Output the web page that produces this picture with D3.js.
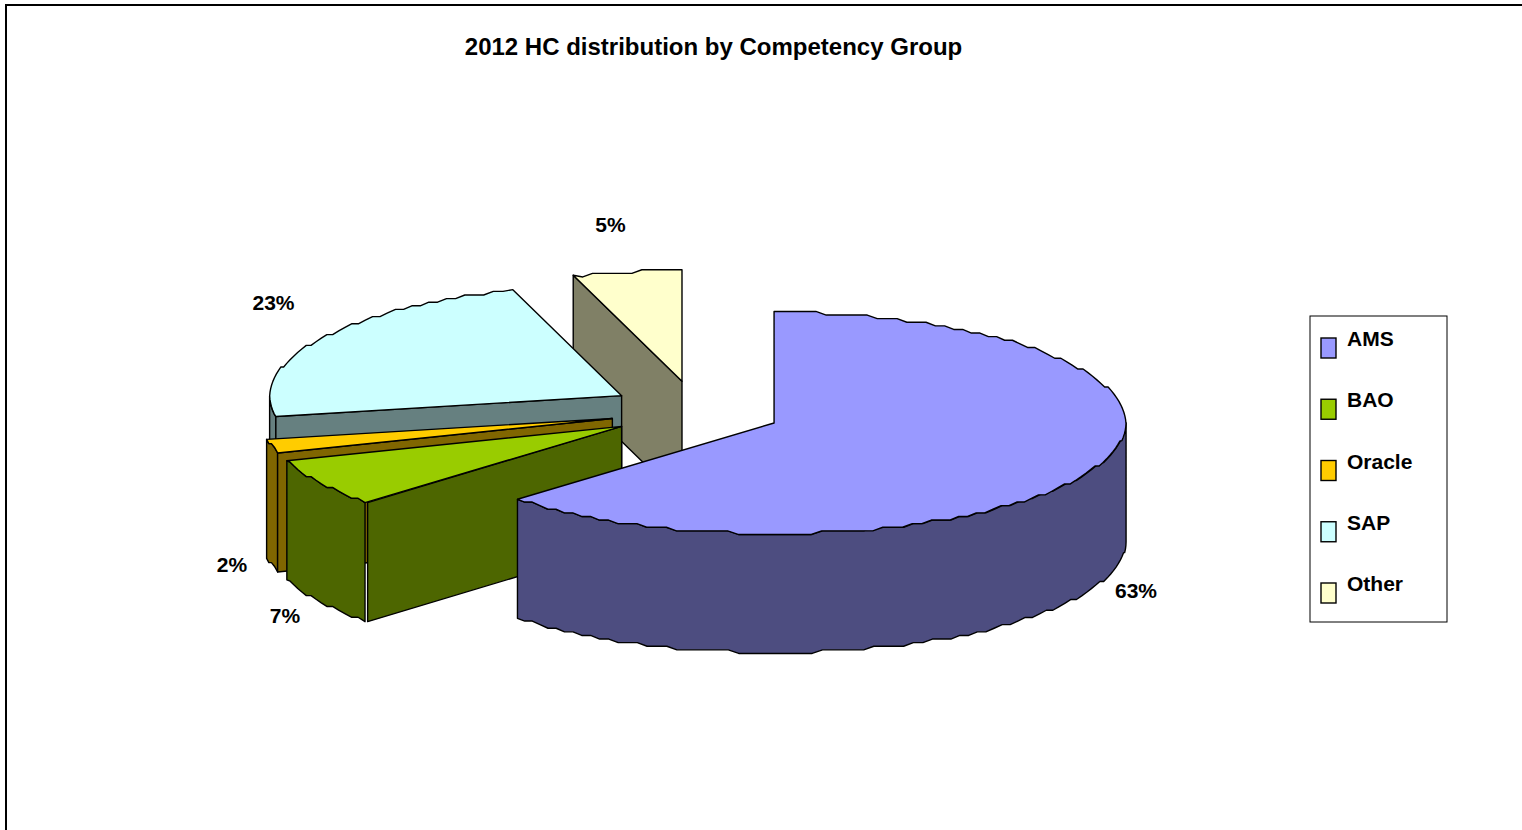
<!DOCTYPE html>
<html>
<head>
<meta charset="utf-8">
<script src="https://cdn.jsdelivr.net/npm/d3@7/dist/d3.min.js"></script>
<style>
html,body{margin:0;padding:0;background:#fff;overflow:hidden}
svg{display:block}
text{font-family:"Liberation Sans",Arial,sans-serif;font-weight:bold;fill:#000}
</style>
</head>
<body>
<svg id="chart" width="1522" height="830"></svg>
<script>
// Head count share by competency group
const categories = ["AMS", "BAO", "Oracle", "SAP", "Other"];
const shares = [63, 7, 2, 23, 5];
const topColors = ["#9999ff", "#99cc00", "#ffcc00", "#ccffff", "#ffffcc"];
const wallColors = ["#4d4d80", "#4d6600", "#806600", "#668080", "#808066"];
const chartTitle = "2012 HC distribution by Competency Group";

// Projection of the tilted pie: unit-circle coordinates to page pixels
const rx = 352, ry = 111.5, depth = 119;
const cx = 695.4, cy = 411;
const x = d3.scaleLinear().domain([-1, 1]).range([cx - rx, cx + rx]);
const y = d3.scaleLinear().domain([-1, 1]).range([cy - ry, cy + ry]);
const explodeX = 0.2435, explodeY = 0.27;

// Rim polyline is coarse, the way the chart's low-resolution export renders it
const rimStep = 1.7 * Math.PI / 180, yGrid = 3.6, flatBand = 0.25;
const BAO = categories.indexOf("BAO");
const seam = 2.6;

const svg = d3.select("#chart");
const line = d3.line();

// Page frame: only its left and top edges fall inside the view
svg.append("rect").attr("x", 6).attr("y", 5).attr("width", 1700).attr("height", 1000)
  .attr("fill", "none").attr("stroke", "#000").attr("stroke-width", 2);

svg.append("text").attr("x", 713.5).attr("y", 55).attr("text-anchor", "middle")
  .attr("font-size", 24).text(chartTitle);

const slices = d3.pie().sort(null).value(d => d)(shares).map((s, i) => {
  const mid = (s.startAngle + s.endAngle) / 2;
  return {
    ...s, i,
    ox: Math.sin(mid) * explodeX,
    oy: -Math.cos(mid) * explodeY
  };
});

function rimPoint(s, a) {
  return [x(s.ox + Math.sin(a)), y(s.oy - Math.cos(a))];
}
// Steps are counted inward from the top and bottom of the ellipse
function snapRim(py, center) {
  const d = py - center;
  const steps = Math.ceil((ry - Math.abs(d)) / yGrid - flatBand);
  return center + Math.sign(d) * (ry - yGrid * Math.max(0, steps));
}
function rim(s, a0, a1) {
  const pts = [];
  const center = y(s.oy);
  const n = Math.max(1, Math.round((a1 - a0) / rimStep));
  for (let k = 0; k <= n; k++) {
    const [px, py] = rimPoint(s, a0 + (a1 - a0) * k / n);
    pts.push([px, (k === 0 || k === n) ? py : snapRim(py, center)]);
  }
  return pts;
}
const drop = pts => pts.map(([a, b]) => [a, b + depth]).reverse();
const centerOf = s => [x(s.ox), y(s.oy)];

const draw = (pts, fill) => svg.append("path")
  .attr("d", line(pts) + "Z")
  .attr("fill", fill).attr("stroke", "#000").attr("stroke-width", 1.4)
  .attr("stroke-linejoin", "round");

// Painter's order: the slices at the back of the pie come first
[4, 3, 2, 1, 0].forEach(i => {
  const s = slices[i];
  const c = centerOf(s);

  // Curved outer wall, facing the viewer between 90 and 270 degrees
  const a0 = Math.max(s.startAngle, Math.PI / 2);
  const a1 = Math.min(s.endAngle, Math.PI * 1.5);
  if (a1 > a0) {
    const curve = rim(s, a0, a1);
    draw(curve.concat(drop(curve)), wallColors[i]);
  }

  // Flat cut wall on the clockwise-start edge of slices on the left half
  if (s.startAngle > Math.PI) {
    const shift = i === BAO ? seam : 0;
    const p = rimPoint(s, s.startAngle);
    const p0 = [p[0] + shift, p[1]];
    draw([c, p0, [p0[0], p0[1] + depth], [c[0], c[1] + depth]], wallColors[i]);
  }

  // Top face
  draw([c].concat(rim(s, s.startAngle, s.endAngle)), topColors[i]);
});

// Percentage labels sit just outside their slices
const labelSpots = [[1136, 598], [285, 623], [232, 572], [273.5, 310], [610.5, 232]];
slices.forEach(s => {
  svg.append("text")
    .attr("x", labelSpots[s.i][0]).attr("y", labelSpots[s.i][1])
    .attr("text-anchor", "middle").attr("font-size", 21)
    .text(s.data + "%");
});

// Legend
const legendTop = 316, legendRow = 61.25;
svg.append("rect").attr("x", 1310).attr("y", legendTop).attr("width", 137).attr("height", 306)
  .attr("fill", "#fff").attr("stroke", "#000").attr("stroke-width", 1);
const row = d3.scaleLinear().domain([0, 1]).range([0, legendRow]);
categories.forEach((name, i) => {
  svg.append("rect").attr("x", 1321).attr("y", legendTop + 22 + row(i)).attr("width", 15).attr("height", 20)
    .attr("fill", topColors[i]).attr("stroke", "#000").attr("stroke-width", 1.4);
  svg.append("text").attr("x", 1347).attr("y", legendTop + 30 + row(i))
    .attr("font-size", 21).text(name);
});
</script>
</body>
</html>
